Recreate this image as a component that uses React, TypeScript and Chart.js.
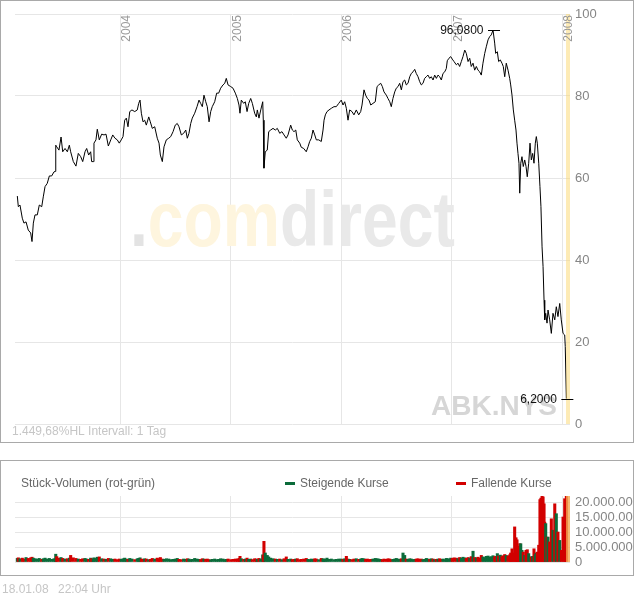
import React, { useEffect, useRef } from "react";
import { Chart, registerables } from "chart.js";
Chart.register(...registerables);

const FONT = '"Liberation Sans", Arial, Helvetica, sans-serif';

// ---- data ----
const symbol = "ABK.NYS";
const intervalText = "Intervall: 1 Tag";
const stampDate = "18.01.08";
const stampTime = "22:04 Uhr";
const volumeTitle = "Stück-Volumen (rot-grün)";
const legendUp = "Steigende Kurse";
const legendDown = "Fallende Kurse";

const yearTicks = [2004, 2005, 2006, 2007, 2008];
const priceTicks = [0, 20, 40, 60, 80, 100];
const volumeTicks = [0, 5, 10, 15, 20]; // millions of shares
const X_MIN = 2003.047;
const X_MAX = 2008.072;
const BAND_START = 2008.036;

const dates = [
  2003.068, 2003.077, 2003.092, 2003.113, 2003.128, 2003.147, 2003.167, 2003.189, 2003.201, 2003.213,
  2003.228, 2003.249, 2003.267, 2003.289, 2003.303, 2003.319, 2003.339, 2003.358, 2003.379, 2003.400,
  2003.412, 2003.416, 2003.425, 2003.445, 2003.464, 2003.479, 2003.500, 2003.521, 2003.539, 2003.551,
  2003.575, 2003.599, 2003.620, 2003.642, 2003.660, 2003.681, 2003.696, 2003.714, 2003.732, 2003.741,
  2003.756, 2003.762, 2003.780, 2003.792, 2003.810, 2003.832, 2003.853, 2003.871, 2003.892, 2003.914,
  2003.932, 2003.952, 2003.973, 2003.991,
  2004.009, 2004.025, 2004.040, 2004.055, 2004.070, 2004.086, 2004.106, 2004.131, 2004.154, 2004.167,
  2004.179, 2004.191, 2004.206, 2004.221, 2004.236, 2004.258, 2004.272, 2004.290, 2004.312, 2004.335,
  2004.351, 2004.363, 2004.381, 2004.396, 2004.417, 2004.439, 2004.457, 2004.478, 2004.498, 2004.516,
  2004.532, 2004.553, 2004.574, 2004.593, 2004.607, 2004.622, 2004.638, 2004.652, 2004.674, 2004.695,
  2004.713, 2004.728, 2004.743, 2004.758, 2004.774, 2004.788, 2004.804, 2004.819, 2004.833, 2004.855,
  2004.873, 2004.891, 2004.909, 2004.930, 2004.946, 2004.960, 2004.976, 2005.000, 2005.021, 2005.042,
  2005.060, 2005.075, 2005.084, 2005.096, 2005.118, 2005.132, 2005.148, 2005.163, 2005.181, 2005.196,
  2005.217, 2005.232, 2005.241, 2005.256, 2005.272, 2005.290, 2005.295, 2005.301, 2005.313, 2005.331,
  2005.344, 2005.362, 2005.383, 2005.404, 2005.422, 2005.444, 2005.464, 2005.483, 2005.503, 2005.519,
  2005.543, 2005.558, 2005.573, 2005.589, 2005.603, 2005.625, 2005.639, 2005.661, 2005.684, 2005.700,
  2005.715, 2005.730, 2005.745, 2005.761, 2005.775, 2005.797, 2005.820, 2005.836, 2005.845, 2005.857,
  2005.872, 2005.890, 2005.911, 2005.935, 2005.956, 2005.978,
  2006.001, 2006.017, 2006.032, 2006.047, 2006.062, 2006.077, 2006.098, 2006.116, 2006.137, 2006.159,
  2006.177, 2006.189, 2006.207, 2006.222, 2006.237, 2006.252, 2006.268, 2006.288, 2006.309, 2006.325,
  2006.340, 2006.358, 2006.373, 2006.388, 2006.409, 2006.424, 2006.440, 2006.454, 2006.469, 2006.485,
  2006.499, 2006.515, 2006.530, 2006.545, 2006.560, 2006.575, 2006.590, 2006.605, 2006.621, 2006.635,
  2006.651, 2006.666, 2006.680, 2006.696, 2006.711, 2006.726, 2006.741, 2006.756, 2006.771, 2006.786,
  2006.802, 2006.816, 2006.832, 2006.847, 2006.862, 2006.877, 2006.892, 2006.907, 2006.922, 2006.938,
  2006.952, 2006.961, 2006.976, 2006.992,
  2007.006, 2007.022, 2007.043, 2007.058, 2007.073, 2007.088, 2007.103, 2007.119, 2007.133, 2007.149,
  2007.164, 2007.178, 2007.194, 2007.209, 2007.224, 2007.239, 2007.254, 2007.269, 2007.284, 2007.300,
  2007.314, 2007.330, 2007.345, 2007.359, 2007.375, 2007.390, 2007.399, 2007.414, 2007.426, 2007.441,
  2007.456, 2007.468, 2007.481, 2007.495, 2007.511, 2007.526, 2007.535, 2007.547, 2007.559, 2007.571,
  2007.583, 2007.592, 2007.601, 2007.610, 2007.617, 2007.626, 2007.637, 2007.649, 2007.662, 2007.674,
  2007.685, 2007.698, 2007.710, 2007.722, 2007.734, 2007.746, 2007.758, 2007.767, 2007.776, 2007.789,
  2007.800, 2007.809, 2007.819, 2007.828, 2007.837, 2007.843, 2007.852, 2007.864, 2007.873, 2007.888,
  2007.903, 2007.918, 2007.934, 2007.948, 2007.963, 2007.979, 2007.993, 2008.009, 2008.024, 2008.029,
  2008.039,
];

const closes = [
  55.6, 53.0, 53.4, 50.2, 49.0, 49.3, 47.3, 46.6, 44.5, 49.0,
  51.0, 51.0, 53.4, 53.0, 55.4, 57.9, 58.7, 60.5, 60.5, 61.5,
  61.6, 68.0, 67.6, 66.8, 70.0, 66.4, 67.2, 66.4, 68.0, 66.4,
  64.0, 62.9, 66.0, 65.2, 64.0, 66.4, 67.2, 65.6, 66.4, 64.0,
  64.0, 68.5, 69.3, 71.9, 69.3, 70.7, 70.5, 70.7, 67.8, 69.3,
  70.5, 69.7, 69.3, 68.5,
  69.3, 70.1, 74.1, 74.6, 72.5, 76.2, 76.6, 76.2, 76.6, 78.2,
  79.0, 75.8, 73.7, 74.1, 72.9, 74.9, 73.7, 72.1, 72.5, 69.7,
  68.5, 65.6, 64.0, 67.6, 69.3, 69.7, 70.1, 71.3, 72.9, 73.3,
  72.5, 70.5, 70.9, 71.7, 69.7, 70.9, 73.3, 74.6, 75.8, 77.4,
  79.0, 78.2, 77.4, 80.2, 78.6, 77.4, 73.7, 76.2, 77.4, 78.6,
  80.7, 80.7, 81.9, 82.7, 83.1, 84.3, 82.7, 82.3, 81.9, 80.7,
  79.4, 77.8, 75.8, 79.0, 78.2, 78.6, 76.2, 78.2, 79.4, 78.2,
  75.8, 74.9, 76.6, 74.6, 76.6, 78.6, 74.1, 62.4, 66.4, 66.8,
  71.3, 71.7, 72.1, 71.7, 72.1, 70.9, 71.3, 70.5, 69.7, 70.5,
  72.9, 71.7, 71.3, 71.7, 69.3, 68.5, 67.5, 67.2, 66.4, 67.6,
  68.9, 69.7, 71.7, 70.5, 69.3, 69.3, 68.9, 71.7, 74.1, 75.4,
  76.2, 76.6, 77.0, 77.4, 77.4, 78.2,
  79.0, 77.8, 78.6, 77.0, 74.1, 76.6, 76.2, 75.4, 76.6, 75.4,
  76.2, 77.8, 81.5, 80.2, 79.4, 79.0, 77.8, 78.2, 78.6, 82.3,
  82.7, 83.1, 82.3, 81.0, 80.2, 79.4, 78.6, 77.4, 79.4, 81.0,
  81.9, 82.3, 83.1, 81.5, 83.5, 83.9, 82.7, 83.1, 84.7, 85.5,
  85.9, 86.5, 85.5, 84.7, 83.5, 82.7, 83.1, 84.3, 84.7, 85.1,
  84.3, 84.7, 83.9, 85.1, 84.3, 85.1, 84.7, 83.9, 85.5, 85.9,
  86.7, 88.6, 89.2, 89.6,
  89.0, 88.4, 87.6, 88.0, 87.2, 88.4, 89.6, 91.2, 90.4, 88.4,
  89.2, 87.2, 88.0, 86.3, 87.2, 86.3, 85.9, 85.1, 88.0, 90.4,
  92.0, 93.7, 94.5, 94.9, 96.08, 92.9, 90.4, 90.8, 88.4, 88.8,
  88.0, 87.2, 84.7, 88.0, 86.3, 84.3, 82.7, 80.2, 76.6, 74.1,
  71.7, 68.5, 66.0, 63.6, 56.3, 63.6, 65.2, 62.8, 64.4, 62.8,
  60.3, 63.6, 68.5, 64.4, 66.0, 63.6, 68.5, 70.1, 68.5, 63.6,
  57.9, 53.0, 43.2, 38.4, 30.2, 25.4, 27.0, 24.6, 27.8, 25.4,
  22.1, 27.0, 25.4, 28.6, 26.2, 29.4, 25.4, 22.1, 21.7, 18.9,
  6.2,
];

// volume in millions of shares
const volumes = [
  1.2, 1.4, 1.1, 1.3, 1.0, 1.5, 1.2, 1.4, 1.6, 1.3,
  1.1, 1.0, 1.2, 0.9, 1.1, 1.3, 1.0, 1.2, 0.9, 1.1,
  1.0, 2.6, 1.8, 1.3, 1.5, 1.2, 1.0, 1.1, 1.3, 2.2,
  1.4, 1.2, 1.0, 0.9, 1.1, 1.2, 1.0, 0.9, 1.3, 1.1,
  1.0, 1.4, 1.2, 1.6, 1.7, 1.1, 1.0, 0.9, 1.2, 1.1,
  0.9, 1.0, 0.8, 1.0,
  0.9, 1.1, 1.3, 1.0, 0.9, 1.2, 1.0, 0.8, 1.1, 1.2,
  1.4, 1.0, 0.9, 1.1, 1.0, 0.8, 0.9, 1.2, 1.0, 1.3,
  1.1, 1.5, 1.0, 0.9, 1.1, 1.0, 0.8, 0.9, 1.0, 1.2,
  0.9, 0.8, 1.0, 0.9, 1.1, 1.0, 0.8, 0.9, 1.2, 1.0,
  0.9, 0.8, 1.1, 1.0, 0.9, 1.0, 0.8, 0.7, 0.9, 1.0,
  0.8, 0.9, 1.1, 1.0, 0.8, 0.9, 1.0, 0.8, 0.9, 1.0,
  1.0, 1.2, 1.9, 1.1, 0.9, 1.0, 1.3, 0.9, 1.0, 0.8,
  1.1, 1.0, 0.9, 1.2, 1.0,
  2.4, 2.2, 6.9, 3.0, 2.2, 1.7,
  1.3, 1.1, 1.0, 0.9, 1.0, 0.8, 1.1, 1.7, 0.9, 1.0,
  0.8, 0.9, 1.0, 1.1, 0.8, 0.9, 1.0, 1.2, 0.9, 0.8,
  1.0, 0.9, 1.1, 1.0, 0.8, 1.2, 1.1, 0.9, 1.0, 1.3,
  0.9, 1.0, 0.8, 0.9, 1.0,
  1.0, 0.9, 1.1, 1.9, 1.0, 0.9, 0.8, 1.0, 1.1, 0.9,
  1.0, 1.2, 1.1, 0.9, 1.0, 0.8, 0.9, 1.0, 1.2, 1.1,
  1.0, 0.9, 0.8, 1.0, 0.9, 1.1, 1.0, 0.8, 0.9, 1.0,
  1.2, 1.0, 0.9, 1.1, 3.0, 2.2, 1.0, 0.9, 1.1, 1.0,
  0.8, 0.9, 1.0, 1.1, 0.9, 1.0, 0.8, 0.9, 1.2, 1.0,
  0.9, 1.1, 1.0, 0.8, 0.9, 1.0, 1.1, 0.9, 1.0, 0.8,
  1.2, 1.1, 1.0, 1.3,
  1.2, 1.4, 1.3, 1.1, 1.5, 1.3, 1.6, 1.4, 1.2, 1.5,
  1.3, 1.8, 3.6, 1.5, 1.4, 1.6, 1.3, 2.2, 1.7, 1.5,
  1.9, 2.0, 1.6, 1.8, 2.1, 1.7, 1.9, 2.8, 2.0, 2.3,
  1.8, 2.1, 2.5, 2.2, 2.0,
  2.4, 3.0, 4.4, 3.0, 11.7, 8.1, 7.4, 5.2, 5.2, 6.1,
  6.1, 3.9, 3.3, 2.2, 3.9, 4.1, 2.8, 1.7, 1.7, 1.9,
  4.4, 2.5, 3.0, 3.3, 5.6, 20.8, 21.3, 21.9, 21.7, 19.4,
  13.3, 12.8, 8.3, 8.3, 6.7, 14.4, 10.6, 19.4, 16.1, 10.0,
  7.2, 3.9, 15.0, 21.1, 11.1, 24.0,
];

// ---- helpers ----
function de(n: number, d: number): string {
  const [i, f] = n.toFixed(d).split(".");
  return i.replace(/\B(?=(\d{3})+(?!\d))/g, ".") + (f ? "," + f : "");
}

const GREEN = "#0b6b3a";
const RED = "#d20000";
const GRID = "#e6e6e6";
const AXIS_TEXT = "#858585";
const LIGHT_TEXT = "#c6c6c6";

const volColors = closes.map((c, i) => (i === 0 || c >= closes[i - 1] ? GREEN : RED));

const mainDecor = {
  id: "mainDecor",
  beforeDatasetsDraw(chart: any) {
    const { ctx } = chart;
    ctx.save();
    // watermark
    ctx.font = `bold 78px ${FONT}`;
    const wDot = ctx.measureText(".").width;
    const wCom = ctx.measureText(".com").width;
    const wAll = ctx.measureText(".comdirect").width;
    const sx = 325 / wAll;
    ctx.translate(130, 246);
    ctx.scale(sx, 1);
    ctx.textAlign = "left";
    ctx.textBaseline = "alphabetic";
    ctx.fillStyle = "#e3e3e3";
    ctx.fillText(".", 0, 0);
    ctx.fillStyle = "#fef5de";
    ctx.fillText("com", wDot, 0);
    ctx.fillStyle = "#e9e9e9";
    ctx.fillText("direct", wCom, 0);
    ctx.restore();

    // symbol
    ctx.save();
    ctx.font = `bold 28px ${FONT}`;
    ctx.fillStyle = "#d6d6d6";
    ctx.textAlign = "right";
    ctx.textBaseline = "alphabetic";
    ctx.fillText(symbol, 557, 415);
    ctx.restore();
  },
  afterDatasetsDraw(chart: any) {
    const { ctx, chartArea: a, scales } = chart;
    const x = scales.x;
    const y = scales.y;
    ctx.save();
    // highlight band (current period)
    const b0 = x.getPixelForValue(BAND_START);
    ctx.fillStyle = "rgba(251, 215, 110, 0.5)";
    ctx.fillRect(b0, a.top, a.right - b0, a.bottom - a.top);

    // year labels, rotated, inside the plot
    ctx.font = `12px ${FONT}`;
    ctx.fillStyle = "#9a9a9a";
    yearTicks.forEach((yr) => {
      const px = Math.round(x.getPixelForValue(yr));
      ctx.save();
      ctx.translate(px + 1, a.top + 1);
      ctx.rotate(-Math.PI / 2);
      ctx.textAlign = "right";
      ctx.textBaseline = "top";
      ctx.fillText(String(yr), 0, 0);
      ctx.restore();
    });

    // max / min markers
    const maxV = Math.max(...closes);
    const minV = Math.min(...closes);
    const marks = [closes.indexOf(maxV), closes.lastIndexOf(minV)];
    ctx.strokeStyle = "#000";
    ctx.lineWidth = 1;
    ctx.fillStyle = "#111";
    ctx.font = `12px ${FONT}`;
    ctx.textAlign = "right";
    ctx.textBaseline = "middle";
    marks.forEach((idx) => {
      const px = x.getPixelForValue(dates[idx]);
      const py = Math.round(y.getPixelForValue(closes[idx])) + 0.5;
      ctx.beginPath();
      ctx.moveTo(px - 5, py);
      ctx.lineTo(px + 7, py);
      ctx.stroke();
      ctx.fillText(de(closes[idx], 4), px - 9.5, py);
    });

    // HL / interval text
    const hl = ((maxV - minV) / minV) * 100;
    ctx.fillStyle = LIGHT_TEXT;
    ctx.textAlign = "left";
    ctx.textBaseline = "alphabetic";
    ctx.fillText(`${de(hl, 2)}%HL ${intervalText}`, 12, 435);

    // frame
    ctx.strokeStyle = "#a9a9a9";
    ctx.strokeRect(0.5, 0.5, 633, 442);
    ctx.restore();
  },
};

const volDecor = {
  id: "volDecor",
  afterDatasetsDraw(chart: any) {
    const { ctx, chartArea: a, scales } = chart;
    const x = scales.x;
    ctx.save();
    const b0 = x.getPixelForValue(BAND_START);
    ctx.fillStyle = "rgba(244, 168, 80, 0.8)";
    ctx.fillRect(b0, a.top, a.right - b0, a.bottom - a.top);

    ctx.font = `12px ${FONT}`;
    ctx.textAlign = "left";
    ctx.textBaseline = "alphabetic";
    ctx.fillStyle = "#666";
    ctx.fillText(volumeTitle, 21, 43);
    ctx.fillStyle = GREEN;
    ctx.fillRect(285, 38, 10, 3);
    ctx.fillStyle = "#666";
    ctx.fillText(legendUp, 300, 43);
    ctx.fillStyle = RED;
    ctx.fillRect(456, 38, 10, 3);
    ctx.fillStyle = "#666";
    ctx.fillText(legendDown, 471, 43);

    ctx.strokeStyle = "#a9a9a9";
    ctx.lineWidth = 1;
    ctx.strokeRect(0.5, 16.5, 633, 115);

    ctx.fillStyle = LIGHT_TEXT;
    ctx.fillText(stampDate, 2, 149);
    ctx.fillText(stampTime, 58, 149);
    ctx.restore();
  },
};

export default function App() {
  const mainRef = useRef<HTMLCanvasElement>(null);
  const volRef = useRef<HTMLCanvasElement>(null);

  useEffect(() => {
    document.body.style.margin = "0";
    const priceData = dates.map((d, i) => ({ x: d, y: closes[i] }));
    const volData = dates.map((d, i) => ({ x: d, y: volumes[i] }));

    const main = new Chart(mainRef.current as HTMLCanvasElement, {
      type: "line",
      data: {
        datasets: [
          {
            data: priceData as any,
            borderColor: "#000",
            borderWidth: 1,
            pointRadius: 0,
            tension: 0,
            fill: false,
          },
        ],
      },
      options: {
        animation: false,
        responsive: false,
        devicePixelRatio: 1,
        layout: { padding: { top: 14, left: 15, right: 0, bottom: 0 } },
        plugins: { legend: { display: false }, tooltip: { enabled: false } },
        scales: {
          x: {
            type: "linear",
            min: X_MIN,
            max: X_MAX,
            afterBuildTicks: (s: any) => {
              s.ticks = yearTicks.map((v) => ({ value: v }));
            },
            afterFit: (s: any) => {
              s.height = 20;
            },
            ticks: { display: false },
            grid: { color: GRID, drawTicks: false },
            border: { display: false },
          },
          y: {
            type: "linear",
            position: "right",
            min: 0,
            max: 100,
            afterBuildTicks: (s: any) => {
              s.ticks = priceTicks.map((v) => ({ value: v }));
            },
            afterFit: (s: any) => {
              s.width = 64;
            },
            ticks: {
              color: AXIS_TEXT,
              font: { family: FONT, size: 13 },
              padding: 5,
              autoSkip: false,
              callback: (v: any) => String(v),
            },
            grid: { color: GRID, drawTicks: false },
            border: { display: false },
          },
        },
      },
      plugins: [mainDecor],
    });

    const vol = new Chart(volRef.current as HTMLCanvasElement, {
      type: "bar",
      data: {
        datasets: [
          {
            data: volData as any,
            backgroundColor: volColors,
            borderWidth: 0,
            barThickness: 2.4,
            grouped: false,
          } as any,
        ],
      },
      options: {
        animation: false,
        responsive: false,
        devicePixelRatio: 1,
        layout: { padding: { top: 52, left: 15, right: 0, bottom: 0 } },
        plugins: { legend: { display: false }, tooltip: { enabled: false } },
        scales: {
          x: {
            type: "linear",
            min: X_MIN,
            max: X_MAX,
            offset: false,
            afterBuildTicks: (s: any) => {
              s.ticks = yearTicks.map((v) => ({ value: v }));
            },
            afterFit: (s: any) => {
              s.height = 35;
            },
            ticks: { display: false },
            grid: { color: GRID, drawTicks: false, offset: false },
            border: { display: false },
          },
          y: {
            type: "linear",
            position: "right",
            min: 0,
            max: 22,
            afterBuildTicks: (s: any) => {
              s.ticks = volumeTicks.map((v) => ({ value: v }));
            },
            afterFit: (s: any) => {
              s.width = 64;
            },
            ticks: {
              color: AXIS_TEXT,
              font: { family: FONT, size: 13 },
              padding: 5,
              autoSkip: false,
              callback: (v: any) => (v === 0 ? "0" : de(Number(v) * 1e6, 0)),
            },
            grid: { color: GRID, drawTicks: false },
            border: { display: false },
          },
        },
      },
      plugins: [volDecor],
    });

    return () => {
      main.destroy();
      vol.destroy();
    };
  }, []);

  return (
    <div style={{ position: "relative", width: 634, height: 597, background: "#fff" }}>
      <canvas
        ref={mainRef}
        width={634}
        height={444}
        style={{ position: "absolute", left: 0, top: 0, width: 634, height: 444 }}
      />
      <canvas
        ref={volRef}
        width={634}
        height={153}
        style={{ position: "absolute", left: 0, top: 444, width: 634, height: 153 }}
      />
    </div>
  );
}
